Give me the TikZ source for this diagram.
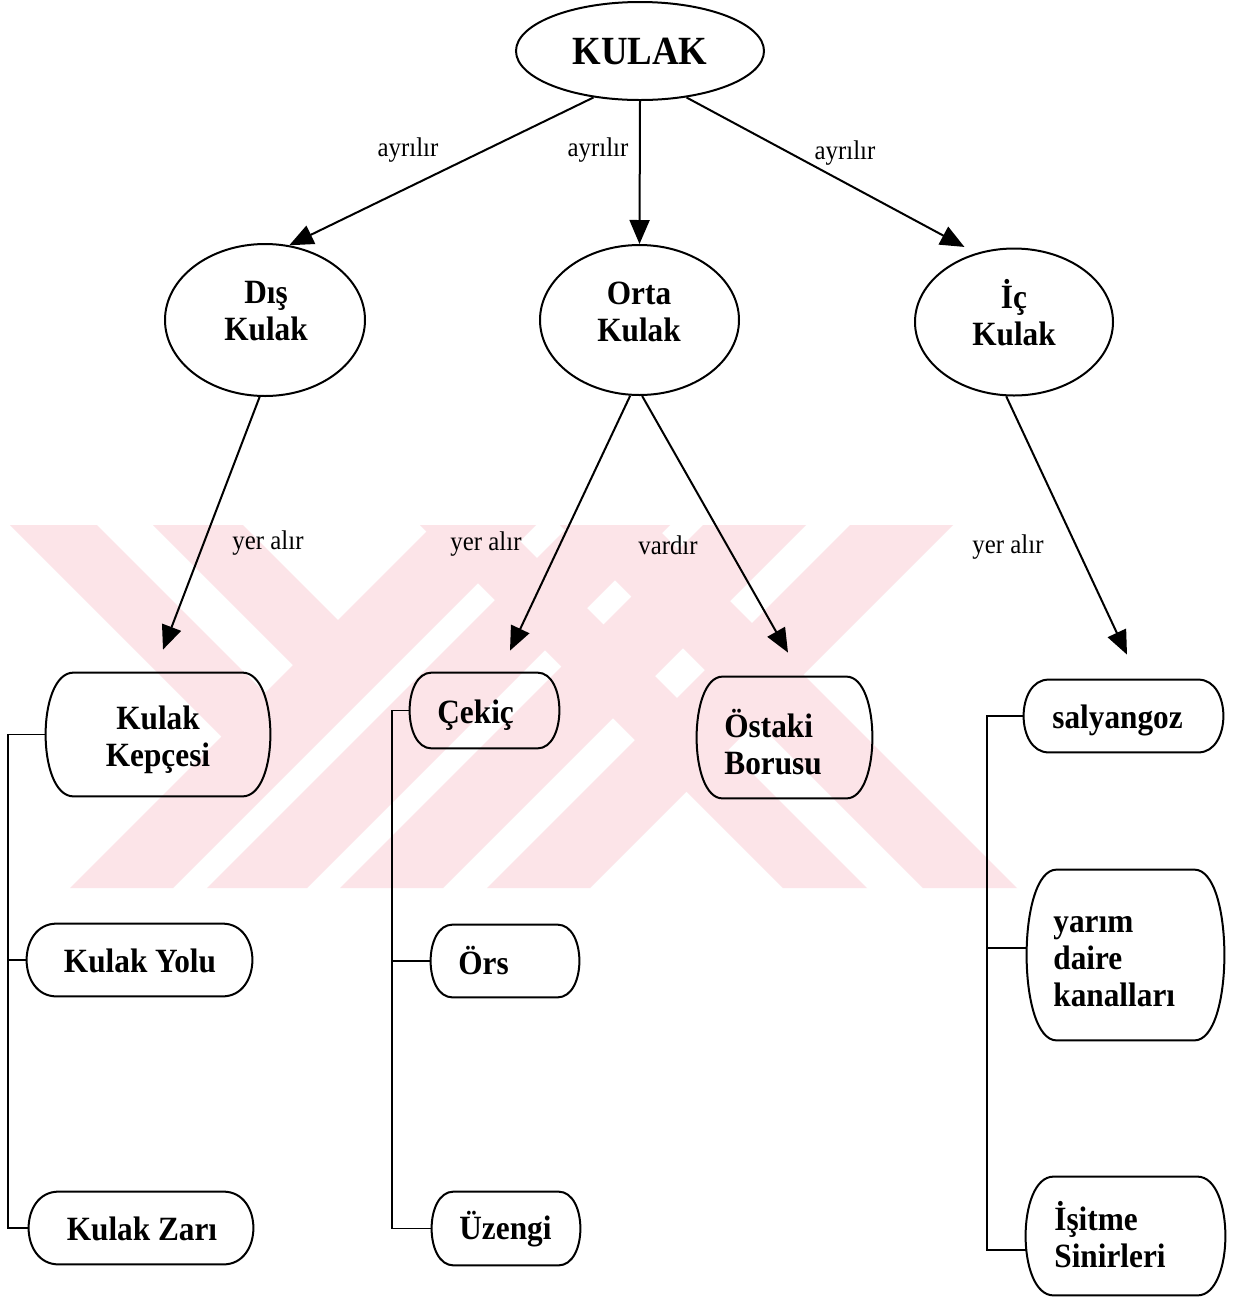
\documentclass[tikz,border=0pt]{standalone}
\usepackage{fontspec}
\setmainfont{Liberation Serif}[FakeStretch=0.92]
\usetikzlibrary{shapes.geometric,arrows.meta,calc}
\definecolor{wm}{RGB}{252,228,232}
\newcommand\curvedbox[2][28]{%
 \draw[outl] ($(#2.north west)+(#1,0)$) -- ($(#2.north east)+(-#1,0)$)
   .. controls +({4*#1/3},0) and +({4*#1/3},0) .. ($(#2.south east)+(-#1,0)$)
   -- ($(#2.south west)+(#1,0)$)
   .. controls +({-4*#1/3},0) and +({-4*#1/3},0) .. ($(#2.north west)+(#1,0)$) -- cycle;}
\begin{document}
\begin{tikzpicture}[x=0.5pt,y=-0.5pt,
  outl/.style={line width=1pt},
  ell/.style={ellipse, draw, line width=1pt, inner sep=0pt},
  box/.style={rectangle, inner sep=0pt, draw=none},
  btxt/.style={font=\bfseries\fontsize{17}{18.5}\selectfont, inner sep=0pt, align=left},
  ctxt/.style={btxt, align=center},
  lbl/.style={font=\fontsize{13.5}{15}\selectfont, inner sep=0pt},
  arr/.style={line width=1pt, -{Triangle[length=12pt,width=10pt]}},
  tree/.style={line width=0.9pt}]

\useasboundingbox (0,0) rectangle (1241,1297);
\fill[white] (0,0) rectangle (1241,1297);

% watermark bands
\fill[wm] (433,525)--(536,525)--(173,888)--(70,888)--cycle;
\fill[wm] (570,525)--(670,525)--(307,888)--(207,888)--cycle;
\fill[wm] (703,525)--(806,525)--(443,888)--(340,888)--cycle;
\fill[wm] (850,525)--(953,525)--(590,888)--(487,888)--cycle;
\fill[wm] (420,525)--(504,525)--(867,888)--(783,888)--cycle;
\fill[wm] (560,525)--(654,525)--(1017,888)--(923,888)--cycle;
\fill[wm] (10,525)--(97,525)--(312,740)--(225,740)--cycle;
\fill[wm] (153,525)--(243,525)--(386,668)--(296,668)--cycle;

% ellipses
\node[ell, minimum width=124pt, minimum height=49pt, font=\bfseries\fontsize{20}{22}\selectfont] (kulak) at (640,51) {KULAK};
\node[ell, minimum width=100pt, minimum height=76pt] (dis) at (265,320) {};
\node[ctxt] (dist) at (266,311) {Dış\\Kulak};
\node[ell, minimum width=99.5pt, minimum height=75pt] (orta) at (639.5,320) {};
\node[ctxt] (ortat) at (639,312) {Orta\\Kulak};
\node[ell, minimum width=99pt, minimum height=73.5pt] (ic) at (1014,322) {};
\node[ctxt] (ict) at (1014,313) {İç\\Kulak};

% boxes
\node[box, minimum width=112pt, minimum height=61.5pt] (kk) at (158,734.5) {};
\node[ctxt] (kkt) at (158,740) {Kulak\\Kepçesi};
\node[box, minimum width=112.5pt, minimum height=36pt] (ky) at (139.5,960) {};
\node[ctxt] (kyt) at (140,961) {Kulak Yolu};
\node[box, minimum width=112pt, minimum height=36pt] (kz) at (141,1228) {};
\node[ctxt] (kzt) at (142,1229) {Kulak Zarı};
\node[box, minimum width=74.5pt, minimum height=37.5pt] (ck) at (484.5,710.5) {};
\node[btxt, anchor=west] (ckt) at (437,715) {Çekiç};
\node[box, minimum width=87.5pt, minimum height=60.5pt] (os) at (784.5,737.5) {};
\node[btxt, anchor=west] (ost) at (724,742) {Östaki\\Borusu};
\node[box, minimum width=74pt, minimum height=36pt] (ors) at (505,961) {};
\node[btxt, anchor=west] (orst) at (458,961) {Örs};
\node[box, minimum width=74pt, minimum height=36.5pt] (uz) at (506,1228.5) {};
\node[btxt, anchor=west] (uzt) at (459,1229) {Üzengi};
\node[box, minimum width=99.5pt, minimum height=36pt] (sa) at (1123.5,716) {};
\node[btxt, anchor=west] (sat) at (1052,720) {salyangoz};
\node[box, minimum width=98.5pt, minimum height=85pt] (yd) at (1125.5,955) {};
\node[btxt, anchor=west] (ydt) at (1053,962) {yarım\\daire\\kanalları};
\node[box, minimum width=99.5pt, minimum height=59pt] (is) at (1125.5,1236) {};
\node[btxt, anchor=west] (ist) at (1054,1235) {İşitme\\Sinirleri};

\curvedbox[28]{kk}
\curvedbox[30]{ky}
\curvedbox[30]{kz}
\curvedbox[22]{ck}
\curvedbox[26]{os}
\curvedbox[22]{ors}
\curvedbox[22]{uz}
\curvedbox[25]{sa}
\curvedbox[30]{yd}
\curvedbox[28]{is}

% arrows
\draw[arr] (kulak.225) -- (dis.72);
\draw[arr] (kulak.south) -- (orta.north);
\draw[arr] (kulak.315) -- ([xshift=-3pt,yshift=4pt]ic.123);
\draw[arr] (dis.266) -- ([xshift=2.5pt,yshift=11.5pt]kk.north);
\draw[arr] (orta.263) -- ([xshift=12.75pt,yshift=11pt]ck.north);
\draw[arr] (orta.272) -- ([xshift=1.75pt,yshift=12pt]os.north);
\draw[arr] (ic.264) -- ([xshift=1.75pt,yshift=12.5pt]sa.north);

% labels
\node[lbl] (l1) at (408,150) {ayrılır};
\node[lbl] (l2) at (598,150) {ayrılır};
\node[lbl] (l3) at (845,153) {ayrılır};
\node[lbl] (l4) at (268,543) {yer alır};
\node[lbl] (l5) at (486,544) {yer alır};
\node[lbl] (l6) at (668,545) {vardır};
\node[lbl] (l7) at (1008,547) {yer alır};

% tree connectors
\coordinate (tl) at (8,0);
\coordinate (tm) at (392,0);
\coordinate (tr) at (987,0);
\draw[tree] (kk.west) -- (kk.west -| tl) -- (kz.west -| tl) -- (kz.west);
\draw[tree] (ky.west) -- (ky.west -| tl);
\draw[tree] (ck.west) -- (ck.west -| tm) -- (uz.west -| tm) -- (uz.west);
\draw[tree] (ors.west) -- (ors.west -| tm);
\draw[tree] (sa.west) -- (sa.west -| tr) -- ([yshift=-7pt]is.west -| tr) -- ([yshift=-7pt]is.west);
\draw[tree] ([yshift=3.5pt]yd.west) -- ([yshift=3.5pt]yd.west -| tr);
\end{tikzpicture}
\end{document}
